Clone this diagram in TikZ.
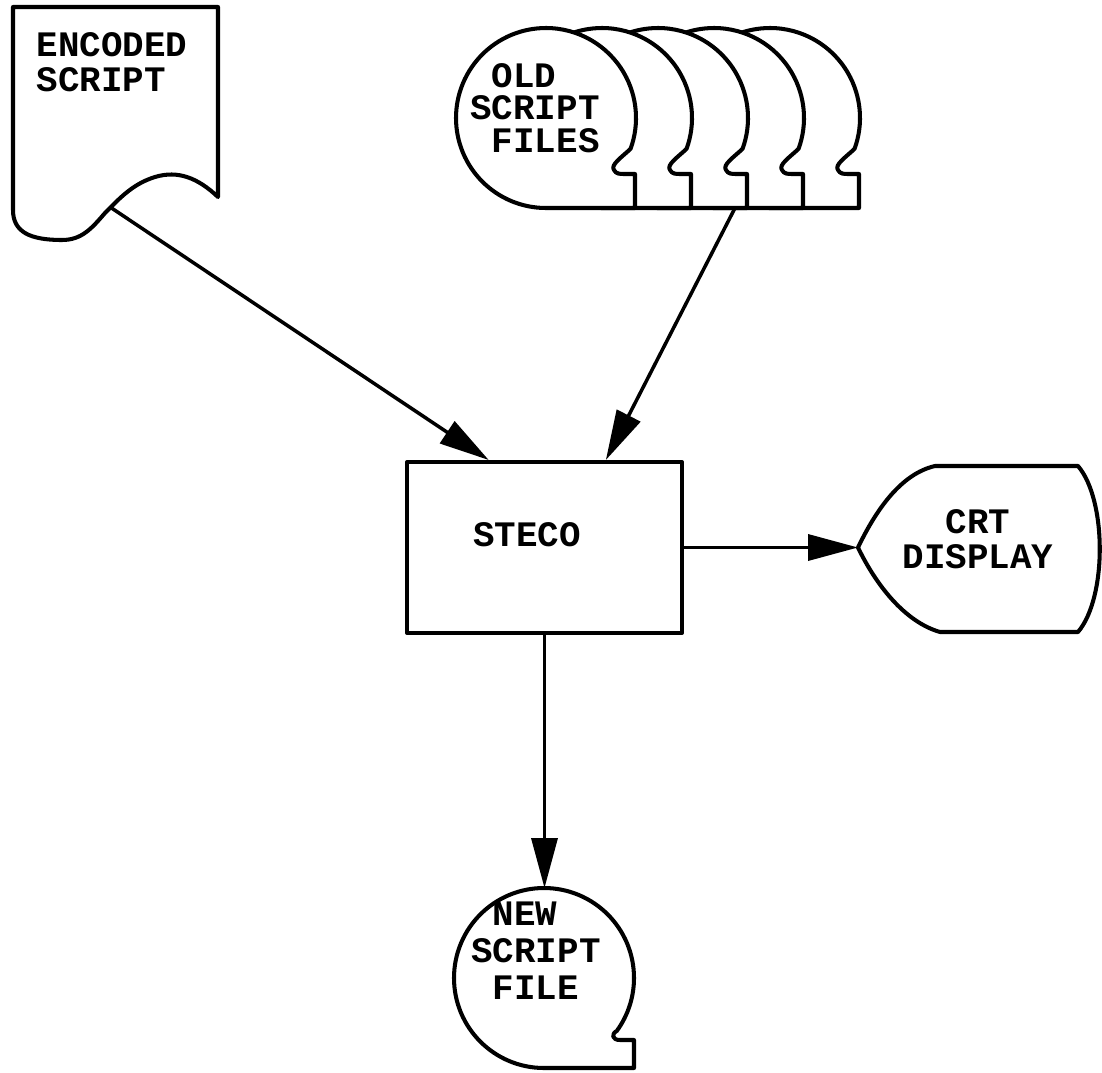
\documentclass[tikz,border=0pt]{standalone}
\usepackage{fontspec}
\newfontfamily\typewriter{Liberation Mono}
\usepackage{tikz}
\usetikzlibrary{arrows.meta, calc}
\tikzset{
  outline/.style={line width=2.3pt, line join=round},
  flow/.style={line width=2pt, -{Triangle[length=1cm, width=0.52cm]}},
  lbl/.style={font=\fontsize{20.4}{20}\selectfont\typewriter\bfseries, inner sep=0pt},
}

\begin{document}
\begin{tikzpicture}[x=0.02cm, y=0.02cm]
\useasboundingbox (0,0) rectangle (1102,-1072);
% encoded script (document)
\draw[outline] (13,-7) -- (218,-7) -- (218,-197)
  .. controls (198,-178) and (178,-170) .. (155,-177)
  .. controls (132,-184) and (118,-200) .. (105,-213)
  .. controls (92,-228) and (82,-240) .. (62,-240)
  .. controls (30,-240) and (13,-232) .. (13,-210) -- cycle;
\node[lbl, align=left] (enc) at (112,-62) {ENCODED\\SCRIPT};
\coordinate (docout) at (110,-207);
% old script files, back to front
\foreach \k in {4,3,2,1,0}{
  \draw[outline, fill=white, shift={(56*\k,0)}] (546,-208)
    arc[start angle=270, end angle=-20, radius=90]
    .. controls (622,-157) and (610,-165) .. (614,-170)
    .. controls (616,-174) and (620,-174) .. (624,-174) -- (635,-174) -- (635,-208) -- cycle;
}
\node[lbl, align=left, font=\fontsize{20.4}{18.5}\selectfont\typewriter\bfseries] (old) at (535,-108)
  {\hphantom{X}OLD\\SCRIPT\\\hphantom{X}FILES};
\coordinate (oldout) at (735,-208);
% steco
\node[outline, draw, minimum width=5.5cm, minimum height=3.42cm, inner sep=0pt] (steco) at (544.5,-547.5) {};
\node[lbl] (stecolbl) at (527,-535) {STECO};
% crt display
\coordinate (crt) at (858,-547.5);
\draw[outline] (crt) .. controls (875,-512) and (900,-474) .. (935,-466) -- (1078,-466)
  .. controls (1107,-500) and (1107,-598) .. (1078,-632) -- (940,-632)
  .. controls (905,-622) and (876,-585) .. (crt) -- cycle;
\node[lbl, align=center] (crtlbl) at (978,-539) {CRT\\DISPLAY};
% new script file
\draw[outline] (544,-1068) arc[start angle=270, end angle=-36, radius=90]
  .. controls (611,-1034) and (612,-1040) .. (620,-1040) -- (634,-1040) -- (634,-1068) -- cycle;
\node[lbl, align=left, font=\fontsize{20.4}{21}\selectfont\typewriter\bfseries] (newlbl) at (536,-951)
  {\hphantom{X}NEW\\SCRIPT\\\hphantom{X}FILE};
\coordinate (newin) at (544,-888);
% data flow
\draw[flow] (docout) -- ($(steco.north west)!0.3!(steco.north east)$);
\draw[flow] (oldout) -- ($(steco.north west)!0.72!(steco.north east)$);
\draw[flow] (steco.east) -- (crt);
\draw[flow] (steco.south) -- (steco.south |- newin);
\end{tikzpicture}
\end{document}
